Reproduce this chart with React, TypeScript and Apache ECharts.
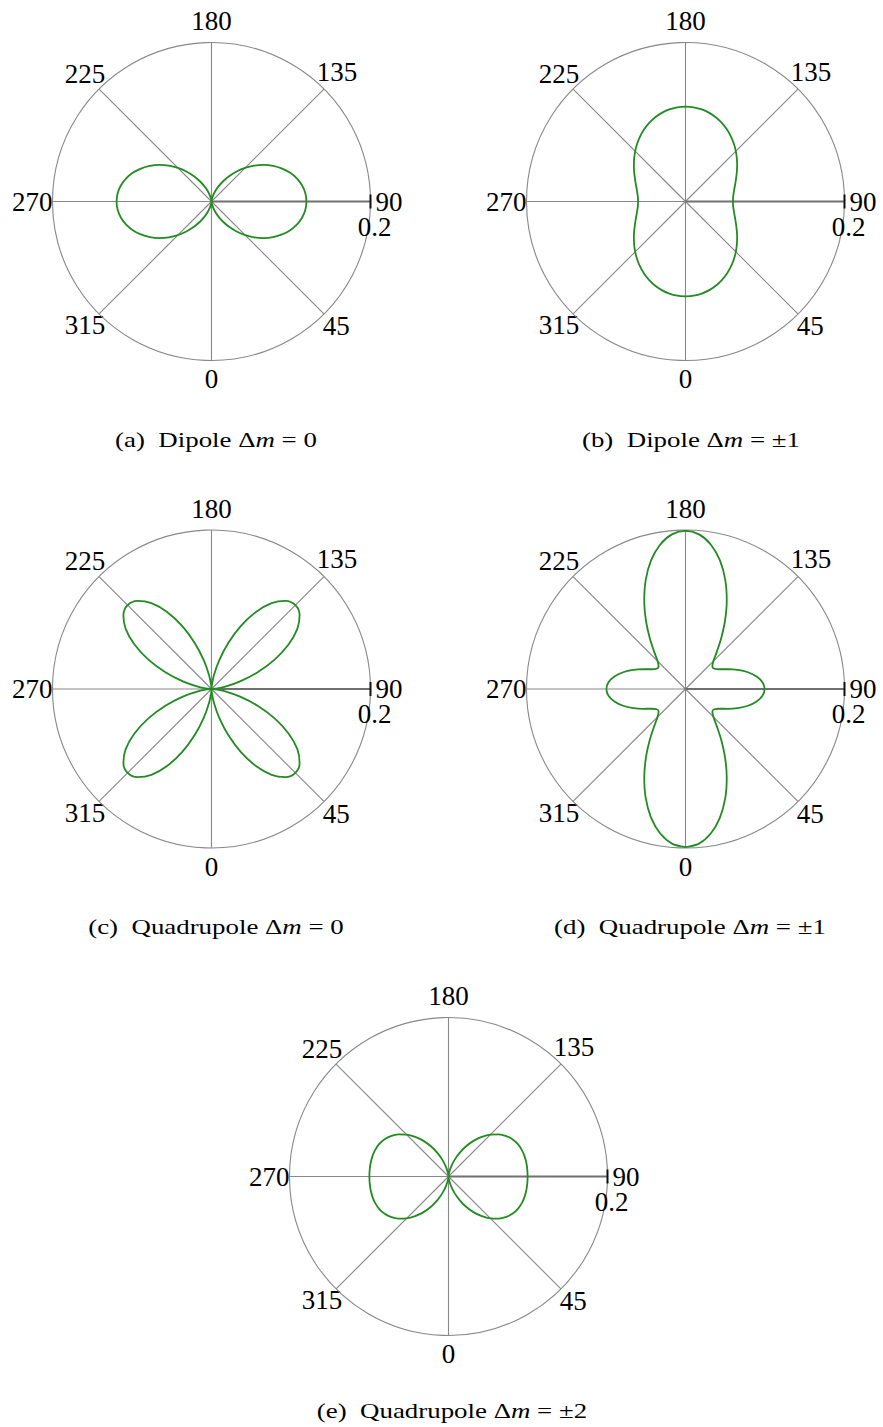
import { useEffect, useRef } from "react";
import * as echarts from "echarts";

// Polar angles (degrees) at which the radiation patterns are sampled
const angles = [
  0, 5, 10, 15, 20, 25, 30, 35, 40, 45, 50, 55, 60, 65, 70, 75, 80, 85, 90,
  95, 100, 105, 110, 115, 120, 125, 130, 135, 140, 145, 150, 155, 160, 165, 170, 175, 180,
  185, 190, 195, 200, 205, 210, 215, 220, 225, 230, 235, 240, 245, 250, 255, 260, 265, 270,
  275, 280, 285, 290, 295, 300, 305, 310, 315, 320, 325, 330, 335, 340, 345, 350, 355, 360,
];

// Angular intensity for each transition
const dipoleM0 = [
  0, 0.0009, 0.0036, 0.008, 0.014, 0.0213, 0.0298, 0.0393, 0.0493, 0.0597, 0.07, 0.0801, 0.0895, 0.098, 0.1054, 0.1114, 0.1158, 0.1185, 0.1194,
  0.1185, 0.1158, 0.1114, 0.1054, 0.098, 0.0895, 0.0801, 0.07, 0.0597, 0.0493, 0.0393, 0.0298, 0.0213, 0.014, 0.008, 0.0036, 0.0009, 0,
  0.0009, 0.0036, 0.008, 0.014, 0.0213, 0.0298, 0.0393, 0.0493, 0.0597, 0.07, 0.0801, 0.0895, 0.098, 0.1054, 0.1114, 0.1158, 0.1185, 0.1194,
  0.1185, 0.1158, 0.1114, 0.1054, 0.098, 0.0895, 0.0801, 0.07, 0.0597, 0.0493, 0.0393, 0.0298, 0.0213, 0.014, 0.008, 0.0036, 0.0009, 0,
];

const dipoleM1 = [
  0.1194, 0.1189, 0.1176, 0.1154, 0.1124, 0.1087, 0.1044, 0.0997, 0.0947, 0.0895, 0.0843, 0.0793, 0.0746, 0.0703, 0.0667, 0.0637, 0.0615, 0.0601, 0.0597,
  0.0601, 0.0615, 0.0637, 0.0667, 0.0703, 0.0746, 0.0793, 0.0843, 0.0895, 0.0947, 0.0997, 0.1044, 0.1087, 0.1124, 0.1154, 0.1176, 0.1189, 0.1194,
  0.1189, 0.1176, 0.1154, 0.1124, 0.1087, 0.1044, 0.0997, 0.0947, 0.0895, 0.0843, 0.0793, 0.0746, 0.0703, 0.0667, 0.0637, 0.0615, 0.0601, 0.0597,
  0.0601, 0.0615, 0.0637, 0.0667, 0.0703, 0.0746, 0.0793, 0.0843, 0.0895, 0.0947, 0.0997, 0.1044, 0.1087, 0.1124, 0.1154, 0.1176, 0.1189, 0.1194,
];

const quadM0 = [
  0, 0.0045, 0.0175, 0.0373, 0.0617, 0.0876, 0.1119, 0.1318, 0.1447, 0.1492, 0.1447, 0.1318, 0.1119, 0.0876, 0.0617, 0.0373, 0.0175, 0.0045, 0,
  0.0045, 0.0175, 0.0373, 0.0617, 0.0876, 0.1119, 0.1318, 0.1447, 0.1492, 0.1447, 0.1318, 0.1119, 0.0876, 0.0617, 0.0373, 0.0175, 0.0045, 0,
  0.0045, 0.0175, 0.0373, 0.0617, 0.0876, 0.1119, 0.1318, 0.1447, 0.1492, 0.1447, 0.1318, 0.1119, 0.0876, 0.0617, 0.0373, 0.0175, 0.0045, 0,
  0.0045, 0.0175, 0.0373, 0.0617, 0.0876, 0.1119, 0.1318, 0.1447, 0.1492, 0.1447, 0.1318, 0.1119, 0.0876, 0.0617, 0.0373, 0.0175, 0.0045, 0,
];

const quadM1 = [
  0.1989, 0.1952, 0.1843, 0.1674, 0.1462, 0.1228, 0.0995, 0.0784, 0.0614, 0.0497, 0.0441, 0.0444, 0.0497, 0.0589, 0.07, 0.0813, 0.0908, 0.0972, 0.0995,
  0.0972, 0.0908, 0.0813, 0.07, 0.0589, 0.0497, 0.0444, 0.0441, 0.0497, 0.0614, 0.0784, 0.0995, 0.1228, 0.1462, 0.1674, 0.1843, 0.1952, 0.1989,
  0.1952, 0.1843, 0.1674, 0.1462, 0.1228, 0.0995, 0.0784, 0.0614, 0.0497, 0.0441, 0.0444, 0.0497, 0.0589, 0.07, 0.0813, 0.0908, 0.0972, 0.0995,
  0.0972, 0.0908, 0.0813, 0.07, 0.0589, 0.0497, 0.0444, 0.0441, 0.0497, 0.0614, 0.0784, 0.0995, 0.1228, 0.1462, 0.1674, 0.1843, 0.1952, 0.1989,
];

const quadM2 = [
  0, 0.0015, 0.0059, 0.0129, 0.0219, 0.0324, 0.0435, 0.0547, 0.0652, 0.0746, 0.0825, 0.0887, 0.0933, 0.0963, 0.0981, 0.099, 0.0994, 0.0995, 0.0995,
  0.0995, 0.0994, 0.099, 0.0981, 0.0963, 0.0933, 0.0887, 0.0825, 0.0746, 0.0652, 0.0547, 0.0435, 0.0324, 0.0219, 0.0129, 0.0059, 0.0015, 0,
  0.0015, 0.0059, 0.0129, 0.0219, 0.0324, 0.0435, 0.0547, 0.0652, 0.0746, 0.0825, 0.0887, 0.0933, 0.0963, 0.0981, 0.099, 0.0994, 0.0995, 0.0995,
  0.0995, 0.0994, 0.099, 0.0981, 0.0963, 0.0933, 0.0887, 0.0825, 0.0746, 0.0652, 0.0547, 0.0435, 0.0324, 0.0219, 0.0129, 0.0059, 0.0015, 0,
];

const patterns = [dipoleM0, dipoleM1, quadM0, quadM1, quadM2];

const captions = [
  "(a)  Dipole Δ{i|m} = 0",
  "(b)  Dipole Δ{i|m} = ±1",
  "(c)  Quadrupole Δ{i|m} = 0",
  "(d)  Quadrupole Δ{i|m} = ±1",
  "(e)  Quadrupole Δ{i|m} = ±2",
];

// Axis scale
const radiusMax = 0.2;
const angleTickStep = 45;
const radiusLabelAngle = 90;

// Layout (px)
const W = 883;
const H = 1427;
const R = 159;
const centers = [
  [211.5, 201.5],
  [685.5, 201.5],
  [211.5, 689],
  [685.5, 689],
  [448.5, 1176.5],
];
const captionPos = [
  [216, 440],
  [691, 440],
  [216, 927],
  [690, 927],
  [452, 1411],
];

const FONT = "'Liberation Serif', 'DejaVu Serif', serif";
const GRID = "#888888";
const GREEN = "#228b22";

// Per-label spacing of the angle labels from the outer circle [top, right, bottom, left]
const labelPadding: Record<number, number[]> = {
  0: [15, 0, 0, 0],
  45: [6, 0, 0, 6],
  90: [0, 0, 0, 15],
  135: [0, 0, 11, 0],
  180: [0, 0, 18, 0],
  225: [0, 1, 9, 0],
  270: [0, 10, 0, 0],
  315: [5, 1, 0, 0],
};

export default function App() {
  const ref = useRef<HTMLDivElement>(null);

  useEffect(() => {
    if (!ref.current) return;
    const chart = echarts.init(ref.current, undefined, { renderer: "svg" });

    const labelRich: Record<string, any> = {};
    for (let v = 0; v < 360; v += angleTickStep) {
      const style: Record<string, any> = {
        fontFamily: FONT,
        fontSize: 27,
        color: "#000",
        padding: labelPadding[v] || [0, 0, 0, 0],
      };
      if (v === 90) style.lineHeight = 20;
      labelRich["p" + v] = style;
    }

    const polar = centers.map((c) => ({ center: [c[0], c[1]], radius: R }));

    const angleAxis = centers.map((_, i) => ({
      polarIndex: i,
      type: "value",
      min: 0,
      max: 360,
      interval: angleTickStep,
      startAngle: 270,
      clockwise: false,
      axisLine: { show: true, lineStyle: { color: GRID, width: 1.1 } },
      axisTick: { show: false },
      splitLine: { show: true, lineStyle: { color: GRID, width: 1.1 } },
      axisLabel: {
        show: true,
        margin: -10,
        fontFamily: FONT,
        fontSize: 27,
        color: "#000",
        formatter: (v: number) => (v >= 360 ? "" : `{p${v}|${v}}`),
        rich: labelRich,
      },
    }));

    const radiusAxis = centers.map((_, i) => ({
      polarIndex: i,
      type: "value",
      min: 0,
      max: radiusMax,
      axisLine: { show: false },
      axisTick: { show: false },
      axisLabel: { show: false },
      splitLine: { show: false },
    }));

    const series: any[] = [];
    patterns.forEach((vals, i) => {
      // radial axis drawn along the 90° direction, with its end tick and label
      series.push({
        type: "line",
        coordinateSystem: "polar",
        polarIndex: i,
        silent: true,
        z: 3,
        showSymbol: true,
        lineStyle: { color: "#707070", width: 2 },
        data: [
          { value: [0, radiusLabelAngle], symbol: "none" },
          {
            value: [radiusMax, radiusLabelAngle],
            symbol: "rect",
            symbolSize: [2, 14],
            itemStyle: { color: "#111" },
            label: {
              show: true,
              formatter: String(radiusMax),
              position: "bottom",
              distance: 8,
              offset: [4, 0],
              fontFamily: FONT,
              fontSize: 27,
              lineHeight: 20,
              color: "#000",
            },
          },
        ],
      });
      series.push({
        type: "line",
        coordinateSystem: "polar",
        polarIndex: i,
        z: 4,
        smooth: 0.3,
        showSymbol: false,
        symbol: "none",
        lineStyle: { color: GREEN, width: 1.8 },
        data: angles.map((a, k) => [vals[k], a]),
      });
    });

    const graphic = captions.map((t, i) => ({
      type: "text",
      x: captionPos[i][0],
      y: captionPos[i][1],
      scaleX: 1.28,
      style: {
        text: t,
        fontFamily: FONT,
        fontSize: 21,
        fill: "#000",
        align: "center",
        verticalAlign: "middle",
        rich: {
          i: { fontFamily: FONT, fontSize: 21, fontStyle: "italic", fill: "#000" },
        },
      },
    }));

    chart.setOption({
      animation: false,
      backgroundColor: "#fff",
      polar,
      angleAxis,
      radiusAxis,
      series,
      graphic,
    });

    return () => chart.dispose();
  }, []);

  return (
    <div
      ref={ref}
      style={{ position: "absolute", left: 0, top: 0, width: W, height: H }}
    />
  );
}
